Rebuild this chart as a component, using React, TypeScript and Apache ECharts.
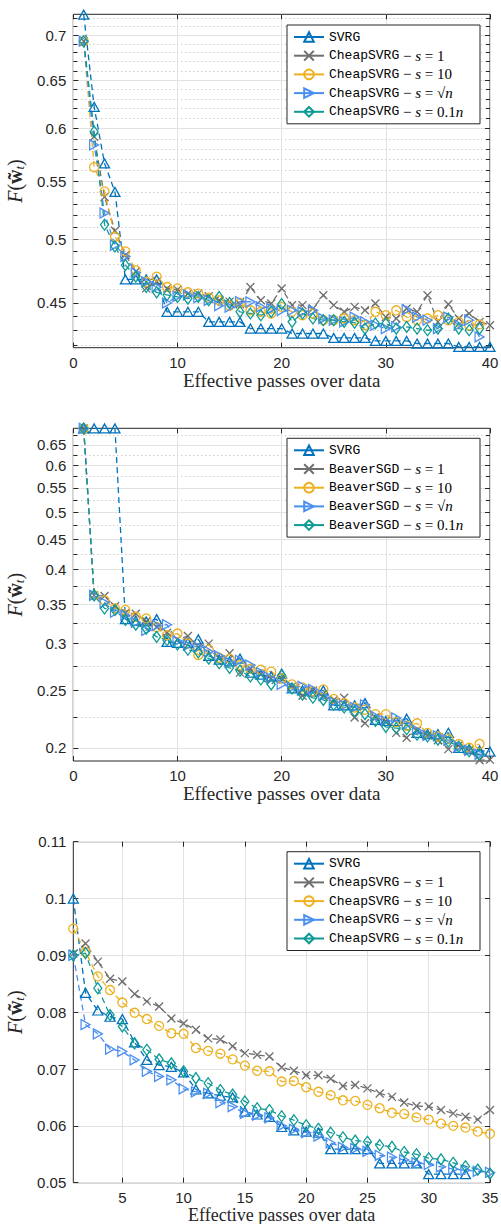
import React, { useEffect, useRef } from 'react';
import * as echarts from 'echarts';

// ---------------- data ----------------
const passes40 = [1, 2, 3, 4, 5, 6, 7, 8, 9, 10, 11, 12, 13, 14, 15, 16, 17, 18, 19, 20, 21, 22, 23, 24, 25, 26, 27, 28, 29, 30, 31, 32, 33, 34, 35, 36, 37, 38, 39, 40];
const passes35 = [1, 2, 3, 4, 5, 6, 7, 8, 9, 10, 11, 12, 13, 14, 15, 16, 17, 18, 19, 20, 21, 22, 23, 24, 25, 26, 27, 28, 29, 30, 31, 32, 33, 34, 35];

// Chart 1 (CheapSVRG, log y)
const c1Svrg = [0.724, 0.622, 0.5665, 0.5405, 0.4678, 0.4678, 0.4678, 0.4678, 0.4435, 0.4435, 0.4435, 0.4435, 0.4362, 0.4362, 0.4362, 0.4362, 0.4314, 0.4314, 0.4314, 0.4314, 0.4279, 0.4279, 0.4279, 0.4279, 0.4248, 0.4248, 0.4248, 0.4248, 0.4227, 0.4227, 0.4227, 0.4227, 0.4209, 0.4209, 0.4209, 0.4209, 0.4185, 0.4185, 0.4185, 0.4185];
const c1S1 = [0.693, 0.592, 0.536, 0.507, 0.487, 0.474, 0.461, 0.466, 0.461, 0.46, 0.457, 0.457, 0.455, 0.452, 0.451, 0.449, 0.462, 0.452, 0.4496, 0.4609, 0.4484, 0.4484, 0.4459, 0.4558, 0.4484, 0.4435, 0.4471, 0.4446, 0.4496, 0.4397, 0.4386, 0.4459, 0.4435, 0.4558, 0.4362, 0.4491, 0.4386, 0.4423, 0.4362, 0.4338];
const c1S10 = [0.693, 0.563, 0.541, 0.502, 0.49, 0.475, 0.466, 0.47, 0.462, 0.461, 0.458, 0.457, 0.454, 0.452, 0.448, 0.45, 0.4446, 0.4435, 0.4423, 0.4471, 0.4435, 0.441, 0.4423, 0.4374, 0.4374, 0.4386, 0.4374, 0.4338, 0.4435, 0.441, 0.4446, 0.4397, 0.4374, 0.4386, 0.441, 0.4374, 0.4362, 0.4338, 0.4344];
const c1Sqrt = [0.693, 0.584, 0.522, 0.495, 0.486, 0.473, 0.466, 0.462, 0.45, 0.455, 0.456, 0.454, 0.452, 0.448, 0.447, 0.451, 0.4509, 0.4471, 0.4459, 0.4446, 0.4446, 0.4435, 0.4446, 0.4386, 0.4374, 0.4362, 0.4397, 0.4362, 0.4338, 0.4314, 0.4326, 0.4451, 0.4397, 0.4374, 0.4314, 0.4397, 0.4338, 0.4374, 0.4255];
const c1Tenth = [0.693, 0.597, 0.512, 0.494, 0.479, 0.47, 0.462, 0.458, 0.456, 0.4545, 0.4533, 0.4545, 0.452, 0.4545, 0.45, 0.4435, 0.4423, 0.441, 0.4435, 0.4491, 0.4362, 0.4423, 0.4386, 0.4374, 0.4374, 0.4362, 0.4356, 0.4314, 0.435, 0.435, 0.4314, 0.4326, 0.4314, 0.4302, 0.4314, 0.4386, 0.4314, 0.4302, 0.4314];

// Chart 2 (BeaverSGD, log y)
const c2Svrg = [0.6931, 0.6931, 0.6931, 0.6931, 0.33, 0.328, 0.327, 0.33, 0.302, 0.301, 0.301, 0.305, 0.286, 0.282, 0.28, 0.283, 0.268, 0.266, 0.264, 0.267, 0.252, 0.25, 0.249, 0.25, 0.236, 0.236, 0.236, 0.238, 0.223, 0.222, 0.222, 0.224, 0.212, 0.211, 0.211, 0.212, 0.2, 0.199, 0.198, 0.197];
const c2S1 = [0.6931, 0.362, 0.361, 0.347, 0.338, 0.337, 0.327, 0.32, 0.313, 0.305, 0.309, 0.296, 0.3, 0.283, 0.289, 0.268, 0.272, 0.266, 0.262, 0.262, 0.254, 0.245, 0.25, 0.244, 0.241, 0.243, 0.225, 0.22, 0.225, 0.222, 0.212, 0.208, 0.214, 0.21, 0.206, 0.199, 0.202, 0.198, 0.1905, 0.191];
const c2S10 = [0.6931, 0.362, 0.355, 0.344, 0.342, 0.333, 0.331, 0.32, 0.31, 0.312, 0.3, 0.287, 0.293, 0.284, 0.283, 0.276, 0.272, 0.271, 0.269, 0.262, 0.256, 0.253, 0.249, 0.251, 0.242, 0.238, 0.234, 0.232, 0.228, 0.228, 0.221, 0.218, 0.22, 0.212, 0.209, 0.207, 0.203, 0.2, 0.203];
const c2Sqrt = [0.6931, 0.362, 0.352, 0.339, 0.335, 0.326, 0.316, 0.322, 0.323, 0.303, 0.298, 0.296, 0.291, 0.286, 0.279, 0.281, 0.276, 0.268, 0.262, 0.256, 0.253, 0.254, 0.251, 0.245, 0.239, 0.236, 0.234, 0.2365, 0.226, 0.222, 0.2247, 0.219, 0.214, 0.21, 0.2095, 0.206, 0.201, 0.198, 0.195];
const c2Tenth = [0.6931, 0.362, 0.344, 0.342, 0.329, 0.323, 0.318, 0.308, 0.304, 0.299, 0.293, 0.29, 0.283, 0.278, 0.273, 0.27, 0.264, 0.261, 0.256, 0.265, 0.252, 0.246, 0.243, 0.241, 0.2365, 0.234, 0.2305, 0.228, 0.222, 0.217, 0.216, 0.215, 0.2105, 0.209, 0.2065, 0.205, 0.201, 0.1974, 0.195];

// Chart 3 (CheapSVRG, linear y)
const c3Svrg = [0.1, 0.0834, 0.0803, 0.0792, 0.0788, 0.0747, 0.0716, 0.0707, 0.0704, 0.0694, 0.0664, 0.0657, 0.0653, 0.065, 0.0625, 0.062, 0.0616, 0.0598, 0.0592, 0.059, 0.0588, 0.0559, 0.0559, 0.0559, 0.0559, 0.0534, 0.0534, 0.0534, 0.0534, 0.0515, 0.0515, 0.0515, 0.0515];
const c3S1 = [0.0903, 0.0921, 0.0889, 0.0859, 0.0854, 0.0832, 0.0819, 0.081, 0.0789, 0.078, 0.0769, 0.0754, 0.0752, 0.074, 0.0728, 0.0725, 0.0722, 0.0703, 0.0697, 0.0689, 0.0689, 0.0683, 0.067, 0.0672, 0.0666, 0.0657, 0.0651, 0.0641, 0.0635, 0.0634, 0.0628, 0.0622, 0.0616, 0.0611, 0.0628];
const c3S10 = [0.0947, 0.0906, 0.0863, 0.0839, 0.0817, 0.0799, 0.0788, 0.0776, 0.0763, 0.0762, 0.0737, 0.0732, 0.0727, 0.0717, 0.0706, 0.0697, 0.0696, 0.0678, 0.0679, 0.0668, 0.066, 0.0654, 0.0645, 0.0644, 0.0637, 0.0631, 0.0623, 0.0621, 0.0615, 0.0611, 0.0604, 0.06, 0.0597, 0.059, 0.0586];
const c3Sqrt = [0.09, 0.0778, 0.0762, 0.0735, 0.0731, 0.0716, 0.0696, 0.0687, 0.0681, 0.0665, 0.066, 0.0657, 0.0641, 0.0634, 0.0622, 0.0619, 0.0614, 0.06, 0.0594, 0.0588, 0.0582, 0.057, 0.0562, 0.056, 0.0555, 0.0548, 0.0545, 0.054, 0.0535, 0.0532, 0.0528, 0.0524, 0.0522, 0.052, 0.0518];
const c3Tenth = [0.09, 0.0904, 0.0842, 0.0795, 0.0775, 0.0745, 0.0734, 0.0717, 0.071, 0.0696, 0.0684, 0.0675, 0.0663, 0.0655, 0.0643, 0.0631, 0.0628, 0.0617, 0.061, 0.0601, 0.0595, 0.0588, 0.058, 0.0574, 0.0572, 0.0566, 0.0563, 0.0554, 0.055, 0.0543, 0.0541, 0.0535, 0.0529, 0.0523, 0.0516];

// tick values
const c1MajorTicks = [0.45, 0.5, 0.55, 0.6, 0.65, 0.7];
const c1MinorTicks = [0.42, 0.43, 0.44, 0.46, 0.47, 0.48, 0.49, 0.51, 0.52, 0.53, 0.54, 0.56, 0.57, 0.58, 0.59, 0.61, 0.62, 0.63, 0.64, 0.66, 0.67, 0.68, 0.69, 0.71, 0.72];
const c2MajorTicks = [0.2, 0.25, 0.3, 0.35, 0.4, 0.45, 0.5, 0.55, 0.6, 0.65];
const c2MinorTicks = [0.225, 0.275, 0.325, 0.375, 0.425, 0.475, 0.525, 0.575, 0.625, 0.675];
const c3XTicks = [5, 10, 15, 20, 25, 30, 35];

// ---------------- styles ----------------
const AX = '#262626';
const COL = { svrg: '#0072BD', s1: '#6f6f6f', s10: '#EDB120', sqrt: '#4A8FF0', tenth: '#0E9A95' };
const SYM: Record<string, any> = {
  svrg: { symbol: 'triangle', symbolSize: [10, 9], symbolRotate: 0 },
  s1: { symbol: 'path://M0,0L10,10M10,0L0,10', symbolSize: 8, symbolRotate: 0 },
  s10: { symbol: 'circle', symbolSize: 9, symbolRotate: 0 },
  sqrt: { symbol: 'triangle', symbolSize: [10, 9], symbolRotate: -90 },
  tenth: { symbol: 'diamond', symbolSize: [8, 11], symbolRotate: 0 },
};
const KEYS = ['svrg', 's1', 's10', 'sqrt', 'tenth'];

const pairs = (xs: number[], ys: number[]) => ys.map((y, i) => [xs[i], y]);

const mkSeries = (key: string, chart: number, xs: number[], ys: number[], xi: number, yi: number) => ({
  type: 'line',
  name: `${key}@${chart}`,
  xAxisIndex: xi,
  yAxisIndex: yi,
  data: pairs(xs, ys),
  symbol: SYM[key].symbol,
  symbolSize: SYM[key].symbolSize,
  symbolRotate: SYM[key].symbolRotate,
  showAllSymbol: true,
  silent: true,
  emphasis: { disabled: true },
  lineStyle: { color: COL[key as keyof typeof COL], width: 1.3, type: [6, 4] },
  itemStyle: { color: 'transparent', borderColor: COL[key as keyof typeof COL], borderWidth: 1.3 },
});

const algoName = (chart: number) => (chart === 2 ? 'BeaverSGD' : 'CheapSVRG');
const legendText = (name: string) => {
  const [key, c] = name.split('@');
  const a = algoName(Number(c));
  switch (key) {
    case 'svrg': return '{t|SVRG}';
    case 's1': return `{t|${a}}{m| − }{i|s}{m| = 1}`;
    case 's10': return `{t|${a}}{m| − }{i|s}{m| = 10}`;
    case 'sqrt': return `{t|${a}}{m| − }{i|s}{m| = √}{i|n}`;
    default: return `{t|${a}}{m| − }{i|s}{m| = 0.1}{i|n}`;
  }
};

const legendRich = {
  t: { fontFamily: 'Liberation Mono', fontSize: 13, color: '#000', lineHeight: 16 },
  m: { fontFamily: 'Liberation Serif', fontSize: 15, color: '#000', lineHeight: 16 },
  i: { fontFamily: 'Liberation Serif', fontSize: 15, fontStyle: 'italic', color: '#000', lineHeight: 16 },
};

const mkLegend = (chart: number, top: number) => ({
  show: true,
  orient: 'vertical',
  left: 287,
  top,
  itemWidth: 30,
  itemHeight: 12,
  itemGap: 2.7,
  padding: [4, 4, 4, 6],
  borderColor: '#262626',
  borderWidth: 1,
  backgroundColor: '#ffffff',
  selectedMode: false,
  data: KEYS.map((k) => `${k}@${chart}`),
  formatter: legendText,
  lineStyle: { type: 'solid' },
  textStyle: { width: 147, lineHeight: 16, rich: legendRich },
});

const tickLabel = { fontFamily: 'Liberation Sans', fontSize: 15, color: AX };
const fmt = (v: number) => String(+Number(v).toFixed(3));

const yName = '{i|F}{p|(}{b|w̃}{s|t}{p|)}';
const yNameStyle = {
  rich: {
    i: { fontFamily: 'Liberation Serif', fontStyle: 'italic', fontSize: 20, color: AX },
    p: { fontFamily: 'Liberation Serif', fontSize: 20, color: AX },
    b: { fontFamily: 'Liberation Serif', fontWeight: 'bold', fontSize: 20, color: AX },
    s: { fontFamily: 'Liberation Serif', fontStyle: 'italic', fontSize: 13, color: AX, padding: [9, 0, 0, 0] },
  },
};
const xNameStyle = { fontFamily: 'Liberation Serif', fontSize: 19, color: AX };

const logYAxes = (grid: number, min: number, max: number, major: number[], minor: number[]) => [
  {
    type: 'log', gridIndex: grid, position: 'left', min, max,
    axisLine: { show: false },
    axisTick: { show: true, inside: true, length: 5, customValues: major, lineStyle: { color: AX } },
    axisLabel: { show: true, customValues: major, formatter: fmt, margin: 7, ...tickLabel },
    splitLine: { show: true, lineStyle: { color: '#e2e2e2', width: 1 } },
    minorTick: { show: false }, minorSplitLine: { show: false },
    name: yName, nameLocation: 'middle', nameGap: 44, nameRotate: 90, nameTextStyle: yNameStyle,
  },
  {
    type: 'log', gridIndex: grid, position: 'left', min, max,
    axisLine: { show: false },
    axisTick: { show: true, inside: true, length: 4, customValues: minor, lineStyle: { color: AX } },
    axisLabel: { show: false },
    splitLine: { show: true, lineStyle: { color: '#b4b4b4', width: 1, type: [1, 3] } },
  },
  {
    type: 'log', gridIndex: grid, position: 'right', min, max,
    axisLine: { show: false },
    axisTick: { show: true, inside: true, length: 5, customValues: major, lineStyle: { color: AX } },
    axisLabel: { show: false },
    splitLine: { show: false },
  },
  {
    type: 'log', gridIndex: grid, position: 'right', min, max,
    axisLine: { show: false },
    axisTick: { show: true, inside: true, length: 4, customValues: minor, lineStyle: { color: AX } },
    axisLabel: { show: false },
    splitLine: { show: false },
  },
];

const xAxes40 = (grid: number) => [
  {
    type: 'value', gridIndex: grid, position: 'bottom', min: 0, max: 40, interval: 10,
    axisLine: { show: false },
    axisTick: { show: true, inside: true, length: 5, lineStyle: { color: AX } },
    axisLabel: { show: true, margin: 7, ...tickLabel },
    splitLine: { show: true, lineStyle: { color: '#e2e2e2', width: 1 } },
    name: 'Effective passes over data', nameLocation: 'middle', nameGap: 23, nameTextStyle: xNameStyle,
  },
  {
    type: 'value', gridIndex: grid, position: 'top', min: 0, max: 40, interval: 10,
    axisLine: { show: false },
    axisTick: { show: true, inside: true, length: 5, lineStyle: { color: AX } },
    axisLabel: { show: false },
    splitLine: { show: false },
  },
];

const gridBox = (top: number, height: number) => ({
  left: 73.3, top, width: 416.7, height,
  show: true, borderColor: AX, borderWidth: 1, backgroundColor: 'transparent',
  containLabel: false, outerBoundsMode: 'none',
});

const option: any = {
  animation: false,
  backgroundColor: '#ffffff',
  textStyle: { fontFamily: 'Liberation Sans' },
  grid: [gridBox(14.3, 333.4), gridBox(428.3, 332.7), gridBox(841.7, 341)],
  legend: [mkLegend(1, 25), mkLegend(2, 438.3), mkLegend(3, 851.7)],
  xAxis: [
    ...xAxes40(0),
    ...xAxes40(1),
    {
      type: 'value', gridIndex: 2, position: 'bottom', min: 1, max: 35,
      axisLine: { show: false },
      axisTick: { show: true, inside: true, length: 5, customValues: c3XTicks, lineStyle: { color: AX } },
      axisLabel: { show: true, customValues: c3XTicks, margin: 7, ...tickLabel },
      splitLine: { show: true, lineStyle: { color: '#e2e2e2', width: 1 } },
      name: 'Effective passes over data', nameLocation: 'middle', nameGap: 20,
      nameTextStyle: { ...xNameStyle, fontSize: 18 },
    },
    {
      type: 'value', gridIndex: 2, position: 'top', min: 1, max: 35,
      axisLine: { show: false },
      axisTick: { show: true, inside: true, length: 5, customValues: c3XTicks, lineStyle: { color: AX } },
      axisLabel: { show: false },
      splitLine: { show: false },
    },
  ],
  yAxis: [
    ...logYAxes(0, 0.418, 0.7245, c1MajorTicks, c1MinorTicks),
    ...logYAxes(1, 0.19, 0.6935, c2MajorTicks, c2MinorTicks),
    {
      type: 'value', gridIndex: 2, position: 'left', min: 0.05, max: 0.11, interval: 0.01,
      axisLine: { show: false },
      axisTick: { show: true, inside: true, length: 5, lineStyle: { color: AX } },
      axisLabel: { show: true, formatter: fmt, margin: 7, ...tickLabel },
      splitLine: { show: true, lineStyle: { color: '#e2e2e2', width: 1 } },
      name: yName, nameLocation: 'middle', nameGap: 46, nameRotate: 90, nameTextStyle: yNameStyle,
    },
    {
      type: 'value', gridIndex: 2, position: 'right', min: 0.05, max: 0.11, interval: 0.01,
      axisLine: { show: false },
      axisTick: { show: true, inside: true, length: 5, lineStyle: { color: AX } },
      axisLabel: { show: false },
      splitLine: { show: false },
    },
  ],
  series: [
    mkSeries('svrg', 1, passes40, c1Svrg, 0, 0),
    mkSeries('s1', 1, passes40, c1S1, 0, 0),
    mkSeries('s10', 1, passes40, c1S10, 0, 0),
    mkSeries('sqrt', 1, passes40, c1Sqrt, 0, 0),
    mkSeries('tenth', 1, passes40, c1Tenth, 0, 0),
    mkSeries('svrg', 2, passes40, c2Svrg, 2, 4),
    mkSeries('s1', 2, passes40, c2S1, 2, 4),
    mkSeries('s10', 2, passes40, c2S10, 2, 4),
    mkSeries('sqrt', 2, passes40, c2Sqrt, 2, 4),
    mkSeries('tenth', 2, passes40, c2Tenth, 2, 4),
    mkSeries('svrg', 3, passes35, c3Svrg, 4, 8),
    mkSeries('s1', 3, passes35, c3S1, 4, 8),
    mkSeries('s10', 3, passes35, c3S10, 4, 8),
    mkSeries('sqrt', 3, passes35, c3Sqrt, 4, 8),
    mkSeries('tenth', 3, passes35, c3Tenth, 4, 8),
  ],
};

export default function App() {
  const ref = useRef<HTMLDivElement>(null);
  useEffect(() => {
    document.body.style.margin = '0';
    const chart = echarts.init(ref.current as HTMLDivElement, null, { renderer: 'svg' });
    chart.setOption(option);
    return () => chart.dispose();
  }, []);
  return <div ref={ref} style={{ width: 501, height: 1224 }} />;
}
